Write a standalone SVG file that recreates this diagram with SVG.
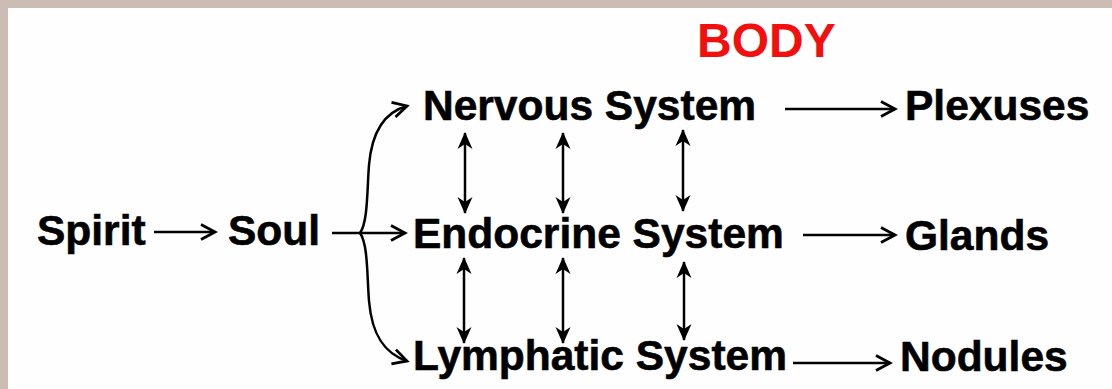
<svg xmlns="http://www.w3.org/2000/svg" width="1112" height="389" viewBox="0 0 1112 389">
<style>
.t{font-family:"Liberation Sans",Arial,sans-serif;font-weight:bold;font-size:42.5px;fill:#000;stroke:#000;stroke-width:0.6}
.red{font-family:"Liberation Sans",Arial,sans-serif;font-weight:bold;font-size:48px;fill:#f40f0f}
.c{fill:none;stroke:#000;stroke-width:2.5}
</style>
<defs>
<marker id="ah" markerWidth="20" markerHeight="20" refX="16" refY="10" orient="auto-start-reverse" markerUnits="userSpaceOnUse" viewBox="0 0 20 20">
<path d="M2,2.5 L16,10 L2,17.5" fill="none" stroke="#000" stroke-width="2.8" stroke-linejoin="miter"/>
</marker>
<marker id="vh" markerWidth="20" markerHeight="20" refX="17" refY="10" orient="auto-start-reverse" markerUnits="userSpaceOnUse" viewBox="0 0 20 20">
<path d="M18,10 L1,2.5 L6,10 L1,17.5 Z" fill="#000"/>
</marker>
</defs>
<rect x="0" y="0" width="1112" height="389" fill="#fefefe"/>
<rect x="0" y="0" width="1112" height="8" fill="#cbbcb4"/>
<rect x="0" y="0" width="8" height="389" fill="#cbbcb4"/>
<g id="body"><text class="red" x="697" y="57">BODY</text></g>
<g id="spirit"><text class="t" x="37" y="245">Spirit</text></g>
<g id="soul"><text class="t" x="228" y="245">Soul</text></g>
<g id="nervous"><text class="t" x="423" y="120">Nervous System</text></g>
<g id="endocrine"><text class="t" x="413" y="248">Endocrine System</text></g>
<g id="lymphatic"><text class="t" x="413" y="370">Lymphatic System</text></g>
<g id="plexuses"><text class="t" x="905" y="120">Plexuses</text></g>
<g id="glands"><text class="t" x="905" y="250">Glands</text></g>
<g id="nodules"><text class="t" x="900" y="371">Nodules</text></g>
<g id="connectors">
<line class="c" x1="154" y1="232" x2="215" y2="232" marker-end="url(#ah)"/>
<line class="c" x1="332" y1="233" x2="405" y2="233" marker-end="url(#ah)"/>
<path class="c" d="M360,233 C368,222 367,190 369,165 C372,130 385,112 407,106" marker-end="url(#ah)"/>
<path class="c" d="M360,233 C368,244 367,276 369,301 C372,336 385,354 407,361" marker-end="url(#ah)"/>
<line class="c" x1="785" y1="109" x2="895" y2="109" marker-end="url(#ah)"/>
<line class="c" x1="803" y1="235" x2="895" y2="235" marker-end="url(#ah)"/>
<line class="c" x1="793" y1="363" x2="890" y2="363" marker-end="url(#ah)"/>
<line class="c" x1="465" y1="133" x2="465" y2="213" marker-start="url(#vh)" marker-end="url(#vh)"/>
<line class="c" x1="563" y1="133" x2="563" y2="213" marker-start="url(#vh)" marker-end="url(#vh)"/>
<line class="c" x1="683" y1="130" x2="683" y2="211" marker-start="url(#vh)" marker-end="url(#vh)"/>
<line class="c" x1="464" y1="258" x2="464" y2="343" marker-start="url(#vh)" marker-end="url(#vh)"/>
<line class="c" x1="563" y1="258" x2="563" y2="343" marker-start="url(#vh)" marker-end="url(#vh)"/>
<line class="c" x1="684" y1="262" x2="684" y2="340" marker-start="url(#vh)" marker-end="url(#vh)"/>
</g>
</svg>
